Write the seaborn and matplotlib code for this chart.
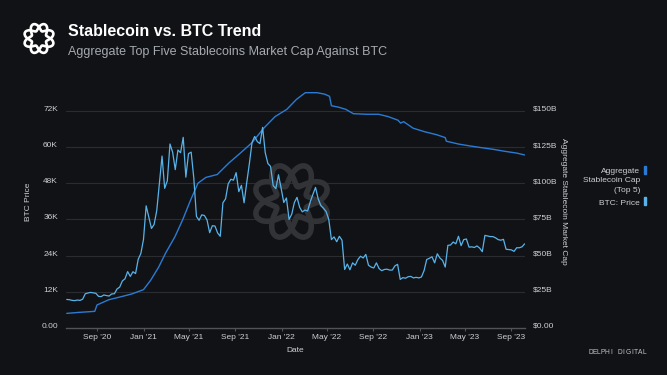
import numpy as np
import pandas as pd
import matplotlib
matplotlib.use("Agg")
import matplotlib.pyplot as plt
from matplotlib.ticker import FixedLocator
from matplotlib.patches import Rectangle
from matplotlib.lines import Line2D
import seaborn as sns

# ---------------- data ----------------
btc_start = "2020-06-12"   # weekly (Friday) BTC prices, thousands USD
btc_2020 = [9.46, 9.38, 9.16, 9.07, 9.27, 9.15, 9.55, 11.35, 11.6, 11.8, 11.65, 11.5,
            10.5, 10.4, 10.95, 10.75, 10.6, 11.3, 11.35, 12.95, 13.55, 15.6, 16.3, 18.7,
            17.1, 18.65, 18.05, 22.8, 24.7]
btc_2021 = [29.4, 40.5, 36.8, 33.0, 34.3, 38.9, 47.9, 57.0, 46.3, 48.8, 61.0, 58.3,
            52.5, 59.0, 58.1, 63.2, 50.0, 57.8, 58.3, 49.7, 37.0, 35.7, 37.5, 37.3,
            35.8, 31.6, 33.9, 33.8, 31.5, 30.4, 41.5, 42.8, 47.8, 49.3, 49.0, 51.5,
            45.2, 47.3, 41.5, 48.2, 54.5, 61.5, 63.5, 61.8, 61.1, 66.5, 58.1, 54.5,
            53.6, 47.2, 46.2, 50.8, 46.3]
btc_2022 = [41.6, 43.1, 36.0, 37.7, 41.6, 43.3, 40.0, 38.5, 39.1, 38.8, 41.8, 44.3,
            46.6, 42.8, 40.6, 39.7, 38.6, 36.0, 29.3, 30.2, 28.6, 30.4, 29.1, 19.4,
            21.2, 19.3, 21.6, 20.8, 22.7, 23.8, 23.2, 24.4, 20.8, 20.2, 19.9, 21.6,
            19.7, 19.0, 19.4, 19.5, 19.2, 19.2, 20.6, 21.1, 16.1, 16.7, 16.5, 17.0,
            17.1, 16.6, 16.8, 16.6]
btc_2023 = [16.9, 19.0, 22.7, 23.1, 23.6, 21.6, 24.6, 23.2, 22.4, 20.2, 27.4, 27.5,
            28.5, 27.9, 30.4, 27.3, 29.3, 29.5, 26.8, 26.9, 26.7, 27.2, 26.5, 25.3,
            30.7, 30.5, 30.3, 30.3, 29.9, 29.3, 29.1, 29.4, 26.1, 26.0, 25.9, 25.4,
            26.6, 26.6, 26.9, 27.9]

stable_dates = ["2020-06-12", "2020-07-15", "2020-08-25", "2020-08-31", "2020-10-01",
                "2020-11-01", "2020-12-01", "2021-01-01", "2021-01-20", "2021-02-10",
                "2021-03-01", "2021-03-25", "2021-04-15", "2021-05-05", "2021-05-25",
                "2021-06-15", "2021-07-15", "2021-08-15", "2021-09-15", "2021-10-15",
                "2021-11-15", "2021-12-15", "2022-01-15", "2022-02-10", "2022-03-05",
                "2022-04-05", "2022-04-25", "2022-05-08", "2022-05-13", "2022-06-01",
                "2022-06-20", "2022-07-10", "2022-08-15", "2022-09-15", "2022-10-10",
                "2022-11-05", "2022-11-12", "2022-11-20", "2022-12-15", "2023-01-15",
                "2023-02-15", "2023-03-10", "2023-03-13", "2023-04-15", "2023-05-15",
                "2023-06-15", "2023-07-15", "2023-08-15", "2023-09-15", "2023-10-06"]
stable_cap = [10.1, 10.8, 11.5, 15.9, 19.5, 21.5, 23.5, 26.5, 33.0, 42.0,
              52.0, 63.0, 75.0, 88.0, 100.0, 104.0, 106.0, 114.0, 121.0, 128.0,
              138.0, 146.0, 151.0, 158.0, 162.5, 162.5, 161.5, 160.0, 153.5, 152.5,
              151.0, 148.0, 147.6, 147.6, 146.0, 143.5, 141.5, 142.5, 138.0, 135.5,
              133.5, 131.5, 129.0, 127.0, 125.7, 124.5, 123.4, 122.0, 120.8, 119.5]

left_ticks = [0, 12, 24, 36, 48, 60, 72]
left_labels = ["0.00", "12K", "24K", "36K", "48K", "60K", "72K"]
right_ticks = [0, 25, 50, 75, 100, 125, 150]
right_labels = ["$0.00", "$25B", "$50B", "$75B", "$100B", "$125B", "$150B"]
x_ticks = ["2020-09-01", "2021-01-01", "2021-05-01", "2021-09-01", "2022-01-01",
           "2022-05-01", "2022-09-01", "2023-01-01", "2023-05-01", "2023-09-01"]
x_labels = ["Sep '20", "Jan '21", "May '21", "Sep '21", "Jan '22", "May '22",
            "Sep '22", "Jan '23", "May '23", "Sep '23"]

btc_vals = btc_2020 + btc_2021 + btc_2022 + btc_2023
btc_df = pd.DataFrame({"Date": pd.date_range(btc_start, periods=len(btc_vals), freq="7D"),
                       "BTC": btc_vals})
st_df = pd.DataFrame({"Date": pd.to_datetime(stable_dates), "Cap": stable_cap})

# ---------------- style ----------------
BG = "#111215"
GRID = "#2a2c30"
TXT = "#cdcfd3"
BTC_C = "#58b3ea"
ST_C = "#2a7bd3"
FS = 6.0

sns.set_theme(style="dark")
plt.rcParams["font.family"] = ["Liberation Sans", "DejaVu Sans"]

W, H = 667, 375
fig = plt.figure(figsize=(6.67, 3.75), dpi=100, facecolor=BG)
L, R, T, B = 66, 525, 75, 328
ax2 = fig.add_axes([L / W, 1 - B / H, (R - L) / W, (B - T) / H])
ax = ax2.twinx()
ax2.set_facecolor(BG)
ax.patch.set_visible(False)

left_top = (B - T) / ((B - 110.8) / 72.0)
ax.set_ylim(0, left_top)
ax2.set_ylim(0, left_top * 150 / 72)
ax2.set_xlim(pd.Timestamp("2020-06-10"), pd.Timestamp("2023-10-07"))

for y in right_ticks[1:]:
    ax2.axhline(y, color=GRID, lw=0.8, zorder=0)

# logo: two interlaced wavy rings
def logo(target, cx, cy, Rr, a, n, lw, color, z):
    th = np.linspace(0, 2 * np.pi, 600)
    for s in (1, -1):
        rr = Rr + s * a * np.sin(n * th)
        xs = (cx + rr * np.cos(th)) / W
        ys = (H - cy + rr * np.sin(th)) / H
        ln = Line2D(xs, ys, transform=fig.transFigure, color=color, lw=lw,
                    zorder=z, solid_capstyle="round")
        if target is fig:
            fig.lines.append(ln)
        else:
            target.add_artist(ln)

logo(ax2, 291.5, 201.5, 27, 11, 4, 4.0, "#313337", 0.5)

sns.lineplot(data=st_df, x="Date", y="Cap", ax=ax2, color=ST_C, lw=1.0, legend=False)
sns.lineplot(data=btc_df, x="Date", y="BTC", ax=ax, color=BTC_C, lw=0.9, legend=False)

# ticks
ax.yaxis.set_major_locator(FixedLocator(left_ticks))
ax2.yaxis.set_major_locator(FixedLocator(right_ticks))
ax2.set_xticks(pd.to_datetime(x_ticks))
ax2.set_xticklabels(x_labels)

for a in (ax, ax2):
    a.grid(False)
    for s in a.spines.values():
        s.set_visible(False)
ax2.spines["bottom"].set_visible(True)
ax2.spines["bottom"].set_color("#505357")
ax2.spines["bottom"].set_linewidth(1.0)

ax.yaxis.tick_left()
ax.yaxis.set_label_position("left")
ax2.yaxis.tick_right()
ax2.yaxis.set_label_position("right")
ax.set_yticklabels(left_labels)
ax2.set_yticklabels(right_labels)

ax2.tick_params(axis="x", colors="#505357", labelcolor=TXT, labelsize=FS,
                length=2, width=0.8, pad=2, bottom=True)
ax.tick_params(axis="y", which="both", length=0, left=False, right=False,
               labelcolor=TXT, labelsize=FS, pad=5.8)
ax2.tick_params(axis="y", which="both", length=0, left=False, right=False,
                labelcolor=TXT, labelsize=FS, pad=5.5)
for lab in ax.get_yticklabels() + ax2.get_yticklabels():
    lab.set_verticalalignment("baseline")

ax2.set_xlabel("Date", color=TXT, fontsize=FS)
ax2.xaxis.set_label_coords(0.5, (B - 350) / (B - T))
ax2.xaxis.label.set_va("center")
ax.set_ylabel("BTC Price", color=TXT, fontsize=FS, rotation=90)
ax.yaxis.set_label_coords((28 - L) / (R - L), (B - 201.5) / (B - T))
ax.yaxis.label.set_va("center")
ax.yaxis.label.set_ha("center")
ax2.set_ylabel("Aggregate Stablecoin Market Cap", color=TXT, fontsize=FS, rotation=270)
ax2.yaxis.set_label_coords((563 - L) / (R - L), (B - 201.5) / (B - T))
ax2.yaxis.label.set_va("center")
ax2.yaxis.label.set_ha("center")

# header logo
logo(fig, 39, 38.5, 11.5, 3.8, 4, 1.9, "#ffffff", 3)

fig.text(68 / W, 1 - 36 / H, "Stablecoin vs. BTC Trend", color="white",
         fontsize=11.5, fontweight="bold", va="baseline", ha="left")
fig.text(68 / W, 1 - 55.3 / H, "Aggregate Top Five Stablecoins Market Cap Against BTC",
         color="#a6aab0", fontsize=9.0, va="baseline", ha="left")

# legend
for txt, yb in (("Aggregate", 173.3), ("Stablecoin Cap", 182.5), ("(Top 5)", 191.7),
                ("BTC: Price", 205.3)):
    fig.text(640 / W, 1 - yb / H, txt, color=TXT, fontsize=FS, ha="right", va="baseline")
fig.patches.append(Rectangle((644 / W, 1 - 173.7 / H), 2 / W, 7.7 / H,
                             transform=fig.transFigure, color=ST_C, zorder=3))
fig.patches.append(Rectangle((644 / W, 1 - 205.3 / H), 2 / W, 8 / H,
                             transform=fig.transFigure, color=BTC_C, zorder=3))

# brand mark
brand = "DELPHI DIGITAL"
x0, x1 = 590.5, 644.5
for i, ch in enumerate(brand):
    fig.text((x0 + (x1 - x0) * i / (len(brand) - 1)) / W, 1 - 352 / H, ch,
             color="#c4c6ca", fontsize=4.8, ha="center", va="center")

fig.savefig("out.png", dpi=100, facecolor=BG)
